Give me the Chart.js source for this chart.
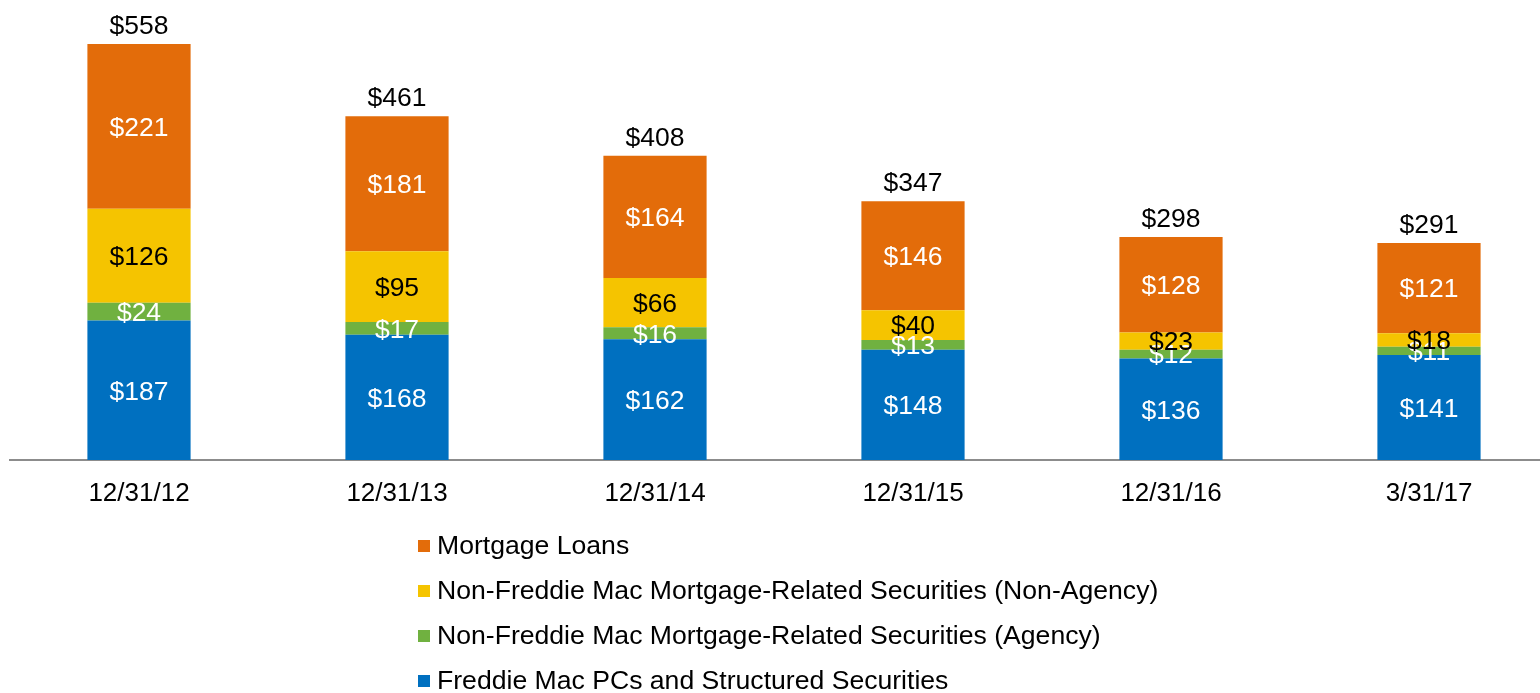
<!DOCTYPE html>
<html>
<head>
<meta charset="utf-8">
<script src="https://cdn.jsdelivr.net/npm/chart.js@4"></script>
<style>
    html, body { margin: 0; padding: 0; background: #ffffff; overflow: hidden; }
    #wrap { position: relative; width: 1558px; height: 693px; }
</style>
</head>
<body>
<div id="wrap"><canvas id="assetChart"></canvas></div>
<script>
// Chart data (US$ billions)
const categories = ['12/31/12', '12/31/13', '12/31/14', '12/31/15', '12/31/16', '3/31/17'];
const freddiePCs = [187, 168, 162, 148, 136, 141];
const agencySecurities = [24, 17, 16, 13, 12, 11];
const nonAgencySecurities = [126, 95, 66, 40, 23, 18];
const mortgageLoans = [221, 181, 164, 146, 128, 121];
const totals = [558, 461, 408, 347, 298, 291];

const FONT = '"Liberation Sans", Arial, sans-serif';

// value labels inside segments + totals on top
const barLabels = {
    id: 'barLabels',
    afterDatasetsDraw(chart) {
        const ctx = chart.ctx;
        ctx.save();
        ctx.font = '26.5px ' + FONT;
        ctx.textAlign = 'center';
        ctx.textBaseline = 'middle';
        chart.data.datasets.forEach((ds, i) => {
            const meta = chart.getDatasetMeta(i);
            meta.data.forEach((bar, j) => {
                ctx.fillStyle = ds.labelColor;
                ctx.fillText('$' + ds.data[j], bar.x, (bar.y + bar.base) / 2 + 2);
            });
        });
        const topMeta = chart.getDatasetMeta(chart.data.datasets.length - 1);
        ctx.fillStyle = '#000000';
        ctx.textBaseline = 'alphabetic';
        topMeta.data.forEach((bar, j) => {
            ctx.fillText('$' + totals[j], bar.x, bar.y - 10);
        });
        ctx.restore();
    }
};

// vertical legend below the axis
const stackedLegend = {
    id: 'stackedLegend',
    afterDraw(chart) {
        const ctx = chart.ctx;
        const sets = chart.data.datasets.slice().reverse();
        ctx.save();
        ctx.font = '26.6px ' + FONT;
        ctx.textAlign = 'left';
        ctx.textBaseline = 'middle';
        sets.forEach((ds, i) => {
            const y = 546 + i * 45;
            ctx.fillStyle = ds.backgroundColor;
            ctx.fillRect(418, y - 6, 12, 12);
            ctx.fillStyle = '#000000';
            ctx.fillText(ds.label, 437, y + 1);
        });
        ctx.restore();
    }
};

new Chart(document.getElementById('assetChart').getContext('2d'), {
    type: 'bar',
    data: {
        labels: categories,
        datasets: [
            { label: 'Freddie Mac PCs and Structured Securities', data: freddiePCs, backgroundColor: '#0070C0', labelColor: '#ffffff' },
            { label: 'Non-Freddie Mac Mortgage-Related Securities (Agency)', data: agencySecurities, backgroundColor: '#70B140', labelColor: '#ffffff' },
            { label: 'Non-Freddie Mac Mortgage-Related Securities (Non-Agency)', data: nonAgencySecurities, backgroundColor: '#F5C400', labelColor: '#000000' },
            { label: 'Mortgage Loans', data: mortgageLoans, backgroundColor: '#E36C0A', labelColor: '#ffffff' }
        ]
    },
    options: {
        responsive: true,
        maintainAspectRatio: false,
        animation: false,
        datasets: { bar: { barPercentage: 0.4, categoryPercentage: 1.0 } },
        layout: { padding: { left: 10, right: 0, top: 0, bottom: 173 } },
        scales: {
            x: {
                stacked: true,
                grid: { display: false, drawTicks: false },
                border: { display: true, color: '#8c8c8c', width: 2 },
                ticks: { color: '#000000', font: { family: FONT, size: 26 }, padding: 18, maxRotation: 0 },
                afterFit(scale) { scale.height = 60; }
            },
            y: { stacked: true, display: false, min: 0, max: 617 }
        },
        plugins: { legend: { display: false }, tooltip: { enabled: false } }
    },
    plugins: [barLabels, stackedLegend]
});
</script>
</body>
</html>
